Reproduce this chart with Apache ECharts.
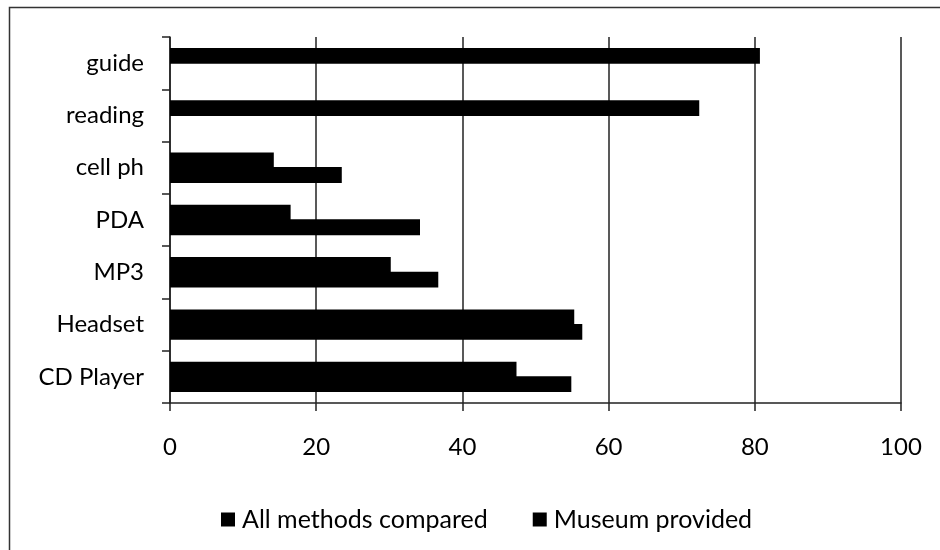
<!DOCTYPE html>
<html>
<head>
<meta charset="utf-8">
<script src="https://cdn.jsdelivr.net/npm/echarts@6/dist/echarts.min.js"></script>
<style>html,body{margin:0;padding:0;background:#fff;}#c{width:940px;height:550px;}</style>
</head>
<body>
<div id="c"></div>
<script>
const categories = ['CD Player', 'Headset', 'MP3', 'PDA', 'cell ph', 'reading', 'guide'];
const allMethods = [54.9, 56.4, 36.7, 34.2, 23.5, null, null];
const museumProvided = [47.4, 55.3, 30.2, 16.5, 14.2, 72.4, 80.7];
const xTicks = [0, 20, 40, 60, 80, 100];
const seriesNames = ['All methods compared', 'Museum provided'];

const FONT = 'Lato';
const chart = echarts.init(document.getElementById('c'), null, {renderer: 'canvas'});
chart.setOption({
  animation: false,
  backgroundColor: '#fff',
  graphic: [{
    type: 'rect', shape: {x: 9.5, y: 7.5, width: 1000, height: 700},
    style: {fill: 'none', stroke: '#333', lineWidth: 1.5}, silent: true
  }],
  grid: {left: 170, right: 39, top: 37, bottom: 147, containLabel: false},
  legend: {
    data: seriesNames,
    left: 216, top: 502,
    icon: 'rect', itemWidth: 14, itemHeight: 14, itemGap: 45,
    textStyle: {fontFamily: FONT, fontSize: 25, color: '#000', padding: [0, 0, 0, 2]}
  },
  xAxis: {
    type: 'value', min: xTicks[0], max: xTicks[xTicks.length - 1], interval: 20,
    axisLine: {show: true, lineStyle: {color: '#222', width: 1.5}},
    axisTick: {show: true, inside: false, length: 8, lineStyle: {color: '#222', width: 1.5}},
    splitLine: {show: true, lineStyle: {color: '#222', width: 1.5}},
    axisLabel: {fontFamily: FONT, fontSize: 24, color: '#000', margin: 32,
      formatter: v => xTicks.includes(v) ? String(v) : ''}
  },
  yAxis: {
    type: 'category', data: categories,
    axisLine: {show: true, lineStyle: {color: '#222', width: 1.5}},
    axisTick: {show: true, inside: false, length: 8, lineStyle: {color: '#222', width: 1.5}},
    splitLine: {show: false},
    axisLabel: {fontFamily: FONT, fontSize: 24, color: '#000', margin: 26}
  },
  series: [
    {name: seriesNames[1], type: 'bar', data: museumProvided, barCategoryGap: '42%', barGap: '-8%',
     itemStyle: {color: '#000'}},
    {name: seriesNames[0], type: 'bar', data: allMethods, barCategoryGap: '42%', barGap: '-8%',
     itemStyle: {color: '#000'}}
  ]
});
</script>
</body>
</html>
